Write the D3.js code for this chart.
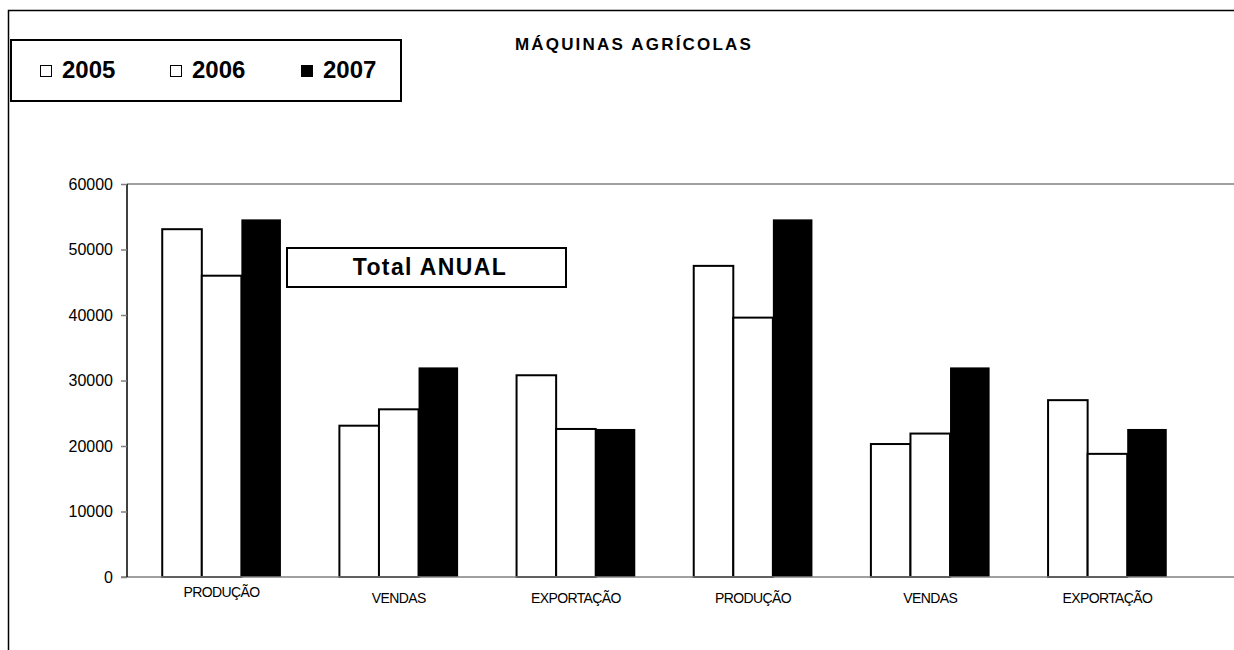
<!DOCTYPE html>
<html>
<head>
<meta charset="utf-8">
<title>Máquinas agrícolas</title>
<script src="https://d3js.org/d3.v7.min.js"></script>
<style>
body { margin: 0; background: #fff; }
svg { display: block; font-family: "Liberation Sans", Arial, sans-serif; }
</style>
</head>
<body>
<div id="chart"></div>
<script>
var categories = ["PRODUÇÃO", "VENDAS", "EXPORTAÇÃO", "PRODUÇÃO", "VENDAS", "EXPORTAÇÃO"];
var years = ["2005", "2006", "2007"];
var s2005 = [53100, 23100, 30800, 47500, 20300, 27000];
var s2006 = [46000, 25600, 22600, 39600, 21900, 18800];
var s2007 = [54600, 32000, 22600, 54600, 32000, 22600];
var yTicks = [0, 10000, 20000, 30000, 40000, 50000, 60000];

var w = 1234, h = 650;
var series = [s2005, s2006, s2007];
var fills = ["#fff", "#fff", "#000"];

var svg = d3.select('#chart').append('svg').attr('width', w).attr('height', h);

// outer frame (only top + left visible)
svg.append('path')
  .attr('d', 'M8.5,650V10.5H1234')
  .attr('fill', 'none').attr('stroke', '#000').attr('stroke-width', 1.5);

var y = d3.scaleLinear().domain([0, 60000]).range([577, 184]);
var x = d3.scaleBand().domain(d3.range(categories.length)).range([133, 1196])
  .paddingInner(0.33).paddingOuter(0.165);
var xs = d3.scaleBand().domain(d3.range(years.length)).range([0, x.bandwidth()]);

// top gridline
svg.append('line').attr('x1', 127).attr('x2', w).attr('y1', y(60000)).attr('y2', y(60000))
  .attr('stroke', '#808080').attr('stroke-width', 1.5);

// bars
categories.forEach(function(c, i) {
  var g = svg.append('g').attr('transform', 'translate(' + x(i) + ',0)');
  g.selectAll('rect')
    .data(series.map(function(s, k) { return { k: k, v: s[i] }; }))
    .enter().append('rect')
    .attr('x', function(d) { return xs(d.k); })
    .attr('y', function(d) { return y(d.v); })
    .attr('width', xs.bandwidth())
    .attr('height', function(d) { return y(0) - y(d.v); })
    .attr('fill', function(d) { return fills[d.k]; })
    .attr('stroke', '#000')
    .attr('stroke-width', function(d) { return d.k == 2 ? 0 : 2; });
});

svg.append('line').attr('x1', 121).attr('x2', w).attr('y1', y(0)).attr('y2', y(0))
  .attr('stroke', '#808080').attr('stroke-width', 1.5);

// y axis
var yAxis = svg.append('g').attr('transform', 'translate(127,0)')
  .call(d3.axisLeft(y).tickValues(yTicks).tickSize(6).tickPadding(8).tickFormat(d3.format('d')));
yAxis.select('.domain').attr('stroke', '#000').attr('stroke-width', 1.5).attr('d', 'M0,' + y(60000) + 'V' + y(0));
yAxis.selectAll('.tick line').attr('stroke', '#808080').attr('stroke-width', 1.5);
yAxis.selectAll('.tick text').attr('font-size', 16).attr('fill', '#000')
  .attr('font-family', '"Liberation Sans", Arial, sans-serif');

// x labels
svg.selectAll('.xlab').data(categories).enter().append('text')
  .attr('class', 'xlab')
  .attr('x', function(d, i) { return x(i) + x.bandwidth() / 2; })
  .attr('y', function(d, i) { return i == 0 ? 597 : 603; })
  .attr('text-anchor', 'middle')
  .attr('font-size', 14)
  .attr('letter-spacing', '-0.6px')
  .text(function(d) { return d; });

// title
svg.append('text').attr('x', 634).attr('y', 50).attr('text-anchor', 'middle')
  .attr('font-size', 17).attr('font-weight', 'bold').attr('letter-spacing', '2.2px')
  .text('MÁQUINAS AGRÍCOLAS');

// legend
svg.append('rect').attr('x', 11).attr('y', 40).attr('width', 390).attr('height', 61)
  .attr('fill', '#fff').attr('stroke', '#000').attr('stroke-width', 2);
var legX = [40, 170, 301];
var leg = svg.selectAll('.leg').data(years).enter().append('g')
  .attr('transform', function(d, i) { return 'translate(' + legX[i] + ',0)'; });
leg.append('rect').attr('x', 0.5).attr('y', 65.5).attr('width', 11).attr('height', 11)
  .attr('fill', function(d, i) { return fills[i]; }).attr('stroke', '#000').attr('stroke-width', 1);
leg.append('text').attr('x', 22).attr('y', 78).attr('font-size', 24).attr('font-weight', 'bold')
  .text(function(d) { return d; });

// Total ANUAL label
svg.append('rect').attr('x', 287).attr('y', 248).attr('width', 279).attr('height', 39)
  .attr('fill', '#fff').attr('stroke', '#000').attr('stroke-width', 2);
svg.append('text').attr('x', 430).attr('y', 275).attr('text-anchor', 'middle')
  .attr('font-size', 23).attr('font-weight', 'bold').attr('letter-spacing', '1.4px')
  .text('Total ANUAL');
</script>
</body>
</html>
